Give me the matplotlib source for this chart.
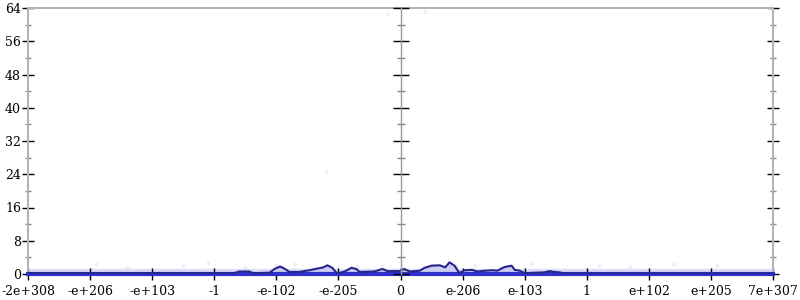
import matplotlib
matplotlib.use('Agg')
import matplotlib.pyplot as plt
from matplotlib.ticker import MultipleLocator

# x in "tick units": 0 is the middle axis, each tick one step
tick_pos = [-6, -5, -4, -3, -2, -1, 0, 1, 2, 3, 4, 5, 6]
tick_labels = ['-2e+308', '-e+206', '-e+103', '-1', '-e-102', '-e-205', '0',
               'e-206', 'e-103', '1', 'e+102', 'e+205', '7e+307']

# histogram line
line_x = [-6.0, -2.68, -2.60, -2.44, -2.37, -2.11, -2.03, -1.94, -1.87, -1.79,
          -1.63, -1.47, -1.34, -1.24, -1.18, -1.10, -1.02, -0.90, -0.79, -0.71,
          -0.66, -0.42, -0.29, -0.21, -0.02, 0.06, 0.15, 0.31, 0.39, 0.50,
          0.63, 0.72, 0.79, 0.87, 0.95, 1.03, 1.15, 1.24, 1.37, 1.48, 1.56,
          1.68, 1.79, 1.84, 1.92, 2.00, 2.32, 2.40, 2.48, 2.56, 2.64, 6.0]
line_y = [0.2, 0.2, 0.6, 0.6, 0.2, 0.3, 1.2, 1.8, 1.3, 0.5,
          0.5, 0.9, 1.3, 1.6, 2.1, 1.5, 0.1, 0.6, 1.5, 1.2,
          0.5, 0.6, 1.2, 0.7, 0.7, 1.2, 0.6, 0.8, 1.5, 2.0,
          2.1, 1.6, 2.8, 2.0, 0.2, 0.9, 1.0, 0.6, 0.8, 0.9, 0.8,
          1.7, 2.0, 1.0, 0.8, 0.2, 0.4, 0.7, 0.5, 0.4, 0.1, 0.1]

# faint scattered samples
dot_x = [-4.9, -3.5, -3.1, -2.0, -1.7, -0.7, 1.2, 1.6, 2.1, 3.2, 4.4, 5.1,
         -4.4, -2.5, -0.3, 0.9, 3.7, -1.2, 0.4, -0.2]
dot_y = [2.3, 2.0, 2.6, 2.2, 2.5, 1.9, 2.2, 1.8, 2.4, 2.0, 2.3, 2.1,
         1.7, 1.8, 2.0, 1.9, 1.7, 24.5, 63.0, 62.5]

plt.rcParams['font.family'] = 'DejaVu Serif'
fig = plt.figure(figsize=(8, 3), dpi=100)
pos = [28 / 800, 26 / 300, 745 / 800, 266 / 300]
ax = fig.add_axes(pos)

ax.fill_between([-6, 6], 0, 1.3, color='#dcdcf8', zorder=1)
ax.fill_between(line_x, 0, line_y, color='#ccccf4', zorder=2)
ax.scatter(dot_x, dot_y, s=8, color='#dcdcf8', alpha=0.5, lw=0, zorder=2)
ax.plot(line_x, line_y, color='#26268a', lw=1.5, zorder=4)

ax.set_xlim(-6, 6)
ax.set_ylim(0, 64)
ax.set_xticks(tick_pos)
ax.set_xticklabels(tick_labels, fontsize=9)
ax.yaxis.set_major_locator(MultipleLocator(8))
ax.yaxis.set_minor_locator(MultipleLocator(4))
ax.tick_params(axis='y', which='major', direction='inout', length=8, width=1,
               color='black', labelsize=9, pad=1, right=True)
ax.tick_params(axis='y', which='minor', direction='inout', length=5, width=1,
               color='#888888', right=True)
ax.tick_params(axis='x', which='major', direction='inout', length=8, width=1,
               color='black', pad=4)

for s in ['left', 'right', 'top']:
    ax.spines[s].set_color('#b4b4b4')
    ax.spines[s].set_linewidth(1.5)
ax.spines['bottom'].set_color('#3030cc')
ax.spines['bottom'].set_linewidth(3)
ax.spines['bottom'].set_zorder(3)

# middle axis with ticks only
ax2 = fig.add_axes(pos, sharey=ax)
ax2.set_xlim(-6, 6)
ax2.patch.set_visible(False)
for s in ['right', 'top', 'bottom']:
    ax2.spines[s].set_visible(False)
ax2.spines['left'].set_position(('data', 0))
ax2.spines['left'].set_color('#999999')
ax2.spines['left'].set_linewidth(1)
ax2.set_xticks([])
ax2.tick_params(axis='y', which='major', direction='inout', length=11, width=1,
                color='black', labelleft=False)
ax2.tick_params(axis='y', which='minor', direction='inout', length=6, width=1,
                color='#888888', labelleft=False)

fig.savefig('out.png', dpi=100)
